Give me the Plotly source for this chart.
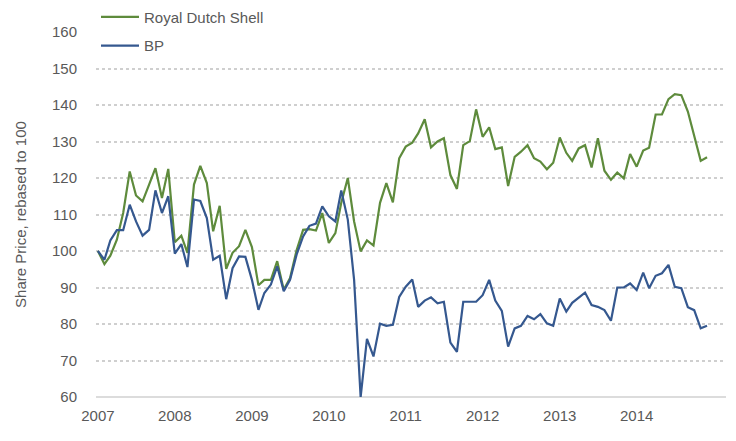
import pandas as pd
import plotly.graph_objects as go

months = pd.date_range("2007-01-01", periods=96, freq="MS")

shell = [
    100.0, 96.4, 98.7, 103.1, 110.4, 121.8, 115.2, 113.6, 118.2, 122.7, 114.5, 122.5,
    102.4, 104.2, 99.5, 118.2, 123.3, 118.6, 105.4, 112.4, 95.1, 99.5, 101.3, 105.8,
    101.1, 90.6, 92.1, 92.1, 97.2, 89.4, 92.6, 100.2, 105.8, 106.0, 105.6, 110.4,
    102.2, 104.9, 113.2, 120.0, 108.1, 99.9, 102.9, 101.5, 113.2, 118.6, 113.3, 125.4,
    128.6, 129.7, 132.2, 136.1, 128.4, 130.0, 130.9, 120.8, 117.0, 129.0, 130.1, 138.8,
    131.3, 133.9, 127.9, 128.4, 117.8, 125.8, 127.2, 129.0, 125.4, 124.5, 122.4, 124.2,
    131.1, 126.9, 124.7, 128.1, 129.0, 122.9, 130.9, 122.0, 119.5, 121.5, 119.9, 126.6,
    123.1, 127.5, 128.3, 137.4, 137.4, 141.6, 143.0, 142.7, 138.2, 131.5, 124.7, 125.7,
]

bp = [
    100.0, 97.6, 102.9, 105.7, 105.7, 112.7, 108.1, 104.2, 105.8, 116.6, 110.4, 115.0,
    99.3, 101.9, 95.6, 114.1, 113.7, 109.0, 97.6, 98.7, 86.8, 95.3, 98.5, 98.4,
    92.1, 83.9, 88.5, 90.8, 95.8, 89.0, 92.1, 99.0, 104.0, 106.9, 107.5, 112.2,
    109.5, 108.1, 116.6, 108.6, 92.1, 60.0, 75.9, 71.1, 80.1, 79.5, 79.8, 87.4,
    90.2, 92.2, 84.7, 86.4, 87.3, 85.7, 86.1, 74.9, 72.4, 86.1, 86.1, 86.1,
    87.9, 92.1, 86.4, 83.6, 73.8, 78.8, 79.5, 82.2, 81.3, 82.7, 80.2, 79.5,
    87.0, 83.4, 85.8, 87.3, 88.6, 85.2, 84.7, 83.8, 80.9, 90.0, 90.0, 91.1,
    89.3, 94.1, 89.8, 93.2, 93.9, 96.2, 90.2, 89.8, 84.6, 83.8, 78.8, 79.5,
]

year_ticks = ["2007-01-01", "2008-01-01", "2009-01-01", "2010-01-01",
              "2011-01-01", "2012-01-01", "2013-01-01", "2014-01-01"]
year_labels = ["2007", "2008", "2009", "2010", "2011", "2012", "2013", "2014"]
y_ticks = [60, 70, 80, 90, 100, 110, 120, 130, 140, 150, 160]

GREEN = "#5E8B3C"
BLUE = "#35588F"
TXT = "#595959"
FONT = "Liberation Sans"

fig = go.Figure()
fig.add_trace(go.Scatter(x=months, y=shell, mode="lines", name="Royal Dutch Shell",
                         line=dict(color=GREEN, width=2.2), legend="legend"))
fig.add_trace(go.Scatter(x=months, y=bp, mode="lines", name="BP",
                         line=dict(color=BLUE, width=2.2), legend="legend2"))

legend_common = dict(font=dict(family=FONT, size=15, color=TXT), bgcolor="rgba(0,0,0,0)",
                     xanchor="left", yanchor="middle", itemwidth=38,
                     borderwidth=0)

fig.update_layout(
    width=736, height=441,
    margin=dict(l=88, r=18, t=24, b=52, autoexpand=False),
    paper_bgcolor="white", plot_bgcolor="white",
    font=dict(family=FONT, size=15, color=TXT),
    showlegend=True,
    legend=dict(x=0.0, y=1.041, **legend_common),
    legend2=dict(x=0.0, y=0.962, **legend_common),
    xaxis=dict(
        range=["2006-12-23", "2015-03-01"],
        tickvals=year_ticks, ticktext=year_labels,
        showgrid=False, zeroline=False, showline=False,
        ticks="", ticklabelstandoff=8,
        tickfont=dict(family=FONT, size=15, color=TXT),
    ),
    yaxis=dict(
        range=[60, 160], tickvals=y_ticks,
        showgrid=True, gridcolor="#CFCFCF", griddash="dot", gridwidth=1.5,
        zeroline=False, showline=False, ticks="", ticklabelstandoff=18,
        tickfont=dict(family=FONT, size=15, color=TXT),
        title=dict(text="Share Price, rebased to 100", standoff=21,
                   font=dict(family=FONT, size=15, color=TXT)),
    ),
    shapes=[dict(type="line", xref="paper", yref="paper", x0=0, x1=1, y0=0, y1=0,
                 line=dict(color="#D0D0D0", width=1.5), layer="below")],
)

fig.write_html("out.html")
